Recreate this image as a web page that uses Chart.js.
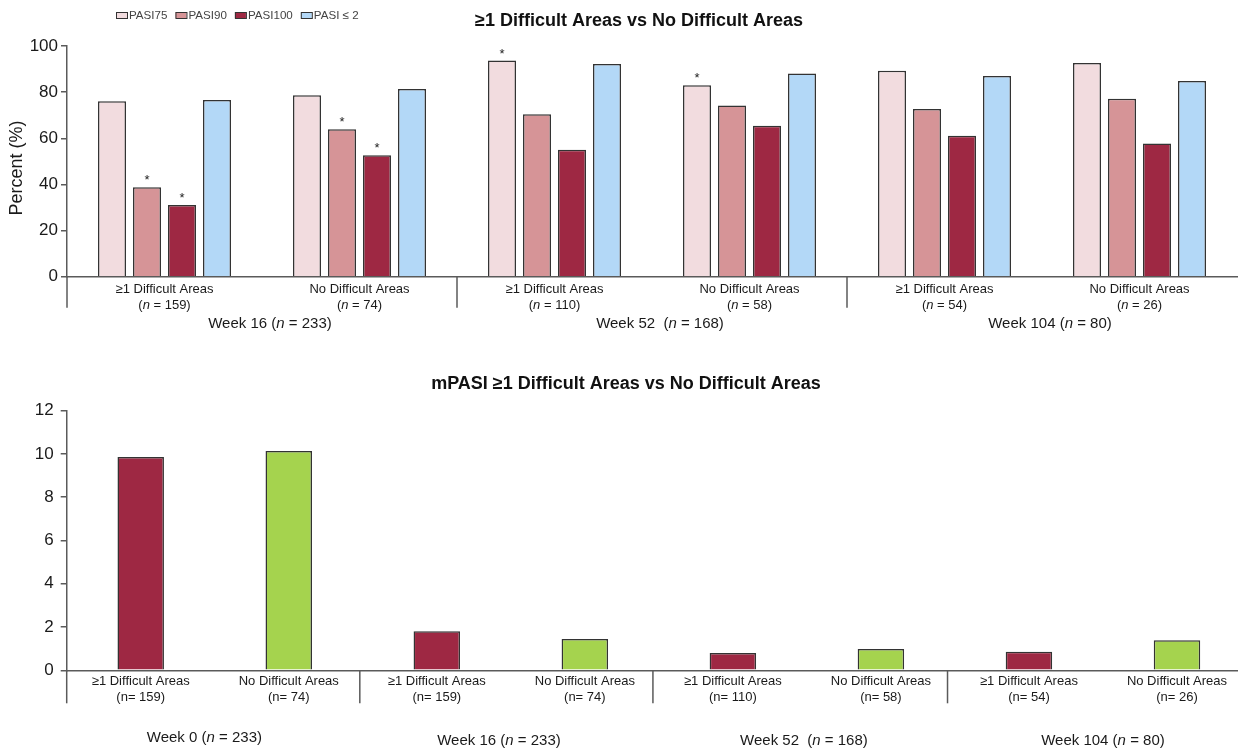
<!DOCTYPE html>
<html><head><meta charset="utf-8">
<script src="https://cdn.jsdelivr.net/npm/chart.js@4.4.1/dist/chart.umd.min.js"></script>
<style>
html,body{margin:0;padding:0;background:#fff;overflow:hidden;width:1238px;height:752px;position:relative;}
#top{position:absolute;left:0;top:0;width:1238px;height:340px;}
#bot{position:absolute;left:0;top:360px;width:1252px;height:392px;}
</style></head><body>
<div id="top"><canvas id="c1"></canvas></div>
<div id="bot"><canvas id="c2"></canvas></div>
<script>
// ---------- DATA ----------
const seriesNames = ['PASI75', 'PASI90', 'PASI100', 'PASI ≤ 2'];
const topCategories = ['≥1 Difficult Areas', 'No Difficult Areas', '≥1 Difficult Areas', 'No Difficult Areas', '≥1 Difficult Areas', 'No Difficult Areas'];
const topN = ['(n = 159)', '(n = 74)', '(n = 110)', '(n = 58)', '(n = 54)', '(n = 26)'];
const topWeeks = ['Week 16 (n = 233)', 'Week 52  (n = 168)', 'Week 104 (n = 80)'];
const pasi75  = [76.1, 78.7, 93.7, 83.0, 89.3, 92.6];
const pasi90  = [38.8, 63.9, 70.4, 74.2, 72.7, 77.1];
const pasi100 = [31.1, 52.6, 55.0, 65.4, 61.1, 57.7];
const pasiLe2 = [76.6, 81.4, 92.2, 88.1, 87.0, 84.8];
const sig75  = [false, false, true, true, false, false];
const sig90  = [true, true, false, false, false, false];
const sig100 = [true, true, false, false, false, false];
const sigLe2 = [false, false, false, false, false, false];
const topTickLabels = [0, 20, 40, 60, 80, 100];

const botCategories = ['≥1 Difficult Areas', 'No Difficult Areas', '≥1 Difficult Areas', 'No Difficult Areas', '≥1 Difficult Areas', 'No Difficult Areas', '≥1 Difficult Areas', 'No Difficult Areas'];
const botN = ['(n= 159)', '(n= 74)', '(n= 159)', '(n= 74)', '(n= 110)', '(n= 58)', '(n= 54)', '(n= 26)'];
const botWeeks = ['Week 0 (n = 233)', 'Week 16 (n = 233)', 'Week 52  (n = 168)', 'Week 104 (n = 80)'];
const mpasi = [9.86, 10.14, 1.80, 1.45, 0.80, 0.98, 0.86, 1.39];
const botTickLabels = [0, 2, 4, 6, 8, 10, 12];

const topTitle = '≥1 Difficult Areas vs No Difficult Areas';
const botTitle = 'mPASI ≥1 Difficult Areas vs No Difficult Areas';
const yTitle = 'Percent (%)';

// ---------- STYLE ----------
const FONT = "'Liberation Sans', Arial, Helvetica, sans-serif";
const seriesColors = ['#f2dcdf', '#d69497', '#9e2843', '#b3d8f7'];
const botColors = ['#9e2843', '#a5d34e'];
const BORDER = '#333333';
const AXIS = '#5a5a5a';
const TXT = '#1a1a1a';

function richText(ctx, str, cx, cy, size, italicN, color, weight) {
  const parts = (italicN ? str.split(/(\bn\b)/) : [str]).filter(p => p !== '');
  let w = 0;
  const segs = parts.map(p => {
    const it = italicN && p === 'n';
    const f = (it ? 'italic ' : '') + (weight || '') + ' ' + size + 'px ' + FONT;
    ctx.font = f;
    const m = ctx.measureText(p).width;
    w += m;
    return { p, f, m };
  });
  let x = cx - w / 2;
  ctx.textBaseline = 'middle';
  ctx.textAlign = 'left';
  ctx.fillStyle = color;
  segs.forEach(s => { ctx.font = s.f; ctx.fillText(s.p, x, cy); x += s.m; });
}

function vline(ctx, x, y1, y2) {
  ctx.save();
  ctx.strokeStyle = AXIS; ctx.lineWidth = 1.5;
  ctx.beginPath(); ctx.moveTo(x, y1); ctx.lineTo(x, y2); ctx.stroke();
  ctx.restore();
}

// ---------- TOP CHART ----------
const sigs = [sig75, sig90, sig100, sigLe2];
const topPlugin = {
  id: 'topDeco',
  afterDraw(chart) {
    const ctx = chart.ctx, xs = chart.scales.x, ca = chart.chartArea;
    ctx.save();
    topCategories.forEach((c, i) => {
      const x = xs.getPixelForValue(i);
      richText(ctx, c, x, 289, 13, false, TXT);
      richText(ctx, topN[i], x, 305, 13, true, TXT);
    });
    topWeeks.forEach((w, g) => {
      richText(ctx, w, xs.getPixelForValue(2 * g + 0.5) + 8, 323.5, 15, true, TXT);
    });
    [-0.5, 1.5, 3.5].forEach(v => vline(ctx, xs.getPixelForValue(v), ca.bottom, ca.bottom + 31));
    chart.data.datasets.forEach((ds, di) => {
      const meta = chart.getDatasetMeta(di);
      meta.data.forEach((bar, i) => {
        if (sigs[di][i]) {
          ctx.font = '13px ' + FONT; ctx.fillStyle = TXT;
          ctx.textAlign = 'center'; ctx.textBaseline = 'alphabetic';
          ctx.fillText('*', bar.x, bar.y - 3);
        }
      });
    });
    ctx.save();
    ctx.translate(17, 168); ctx.rotate(-Math.PI / 2);
    ctx.font = '18px ' + FONT; ctx.fillStyle = TXT; ctx.textAlign = 'center'; ctx.textBaseline = 'middle';
    ctx.fillText(yTitle, 0, 0);
    ctx.restore();
    richText(ctx, topTitle, 639, 21.5, 18, false, '#111', 'bold');
    // legend
    let lx = 116;
    chart.data.datasets.forEach((ds, di) => {
      ctx.fillStyle = ds.backgroundColor;
      ctx.fillRect(lx, 12, 11, 6);
      ctx.strokeStyle = BORDER; ctx.lineWidth = 1;
      ctx.strokeRect(lx + 0.5, 12.5, 11, 6);
      ctx.font = '11.6px ' + FONT; ctx.fillStyle = '#444';
      ctx.textAlign = 'left'; ctx.textBaseline = 'middle';
      ctx.fillText(ds.label, lx + 13, 15.5);
      lx += 13 + ctx.measureText(ds.label).width + 8;
    });
    ctx.restore();
  }
};

new Chart(document.getElementById('c1'), {
  type: 'bar',
  data: {
    labels: topCategories,
    datasets: [pasi75, pasi90, pasi100, pasiLe2].map((d, i) => ({
      label: seriesNames[i], data: d,
      backgroundColor: seriesColors[i], borderColor: BORDER, borderWidth: 1.5,
      categoryPercentage: 0.718, barPercentage: 0.8
    }))
  },
  options: {
    responsive: true, maintainAspectRatio: false, animation: false,
    layout: { padding: { top: 46, left: 0, right: 1, bottom: 0 } },
    plugins: { legend: { display: false }, tooltip: { enabled: false } },
    scales: {
      x: {
        grid: { display: false, drawTicks: false },
        border: { display: true, color: AXIS, width: 1.5 },
        ticks: { display: false },
        afterFit(s) { s.height = 63.3; }
      },
      y: {
        min: 0, max: 100,
        grid: { drawOnChartArea: false, drawTicks: true, tickLength: 6, color: AXIS, lineWidth: 1.5 },
        border: { display: true, color: AXIS, width: 1.5 },
        ticks: {
          stepSize: 10, padding: 3, color: TXT, font: { family: FONT, size: 17 },
          callback: v => topTickLabels.includes(v) ? String(v) : ''
        },
        afterFit(s) { s.width = 67; }
      }
    }
  },
  plugins: [topPlugin]
});

// ---------- BOTTOM CHART ----------
const botPlugin = {
  id: 'botDeco',
  afterDraw(chart) {
    const ctx = chart.ctx, xs = chart.scales.x, ca = chart.chartArea;
    ctx.save();
    botCategories.forEach((c, i) => {
      const x = xs.getPixelForValue(i);
      richText(ctx, c, x, 321, 13, false, TXT);
      richText(ctx, botN[i], x, 337, 13, false, TXT);
    });
    const weekPos = [0.43, 2.42, 4.48, 6.5];
    const weekY = [378, 381, 381, 381];
    botWeeks.forEach((w, g) => {
      richText(ctx, w, xs.getPixelForValue(weekPos[g]), weekY[g], 15, true, TXT);
    });
    [-0.5, 1.48, 3.46, 5.45].forEach(v => vline(ctx, xs.getPixelForValue(v), ca.bottom, ca.bottom + 33));
    richText(ctx, botTitle, 626, 24, 18, false, '#111', 'bold');
    ctx.restore();
  }
};

new Chart(document.getElementById('c2'), {
  type: 'bar',
  data: {
    labels: botCategories,
    datasets: [{
      label: 'mPASI', data: mpasi,
      backgroundColor: mpasi.map((v, i) => botColors[i % 2]),
      borderColor: BORDER, borderWidth: 1.5,
      categoryPercentage: 1, barPercentage: 0.314
    }]
  },
  options: {
    responsive: true, maintainAspectRatio: false, animation: false,
    layout: { padding: { top: 50.7, left: 0, right: 1, bottom: 0 } },
    plugins: { legend: { display: false }, tooltip: { enabled: false } },
    scales: {
      x: {
        grid: { display: false, drawTicks: false },
        border: { display: true, color: AXIS, width: 1.5 },
        ticks: { display: false },
        afterFit(s) { s.height = 81.7; }
      },
      y: {
        min: 0, max: 12,
        grid: { drawOnChartArea: false, drawTicks: true, tickLength: 6, color: AXIS, lineWidth: 1.5 },
        border: { display: true, color: AXIS, width: 1.5 },
        ticks: {
          stepSize: 2, padding: 7, color: TXT, font: { family: FONT, size: 17 },
          callback: v => botTickLabels.includes(v) ? String(v) : ''
        },
        afterFit(s) { s.width = 66.7; }
      }
    }
  },
  plugins: [botPlugin]
});
</script>
</body></html>
